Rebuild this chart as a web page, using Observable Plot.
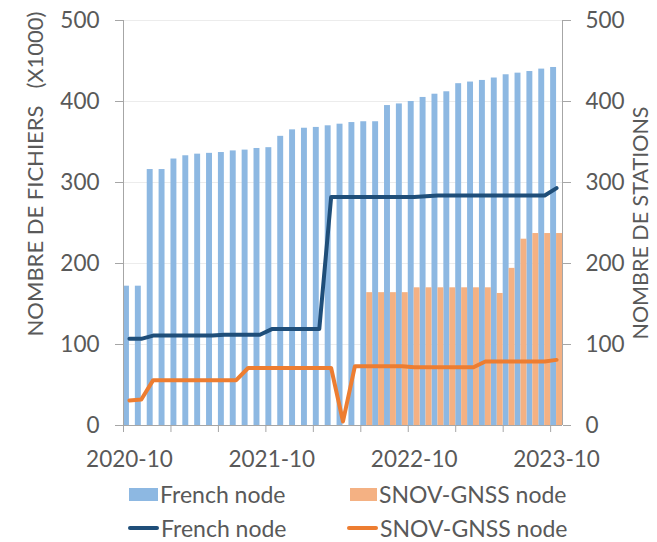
<!DOCTYPE html>
<html>
<head>
<meta charset="utf-8">
<script src="https://cdn.jsdelivr.net/npm/d3@7"></script>
<script src="https://cdn.jsdelivr.net/npm/@observablehq/plot@0.6"></script>
<style>
  html, body { margin: 0; padding: 0; background: white; }
  body { width: 657px; font-family: Lato, "Liberation Sans", sans-serif; color: #595959; }
  #legend { position: relative; width: 657px; height: 64px; font-size: 23px; }
  .item { position: absolute; display: flex; align-items: center; height: 24px; line-height: 24px; }
  .sw { display: inline-block; margin-right: 2px; }
</style>
</head>
<body>
<div id="chart"></div>
<div id="legend"></div>
<script>
// Months (categories)
const months = ["2020-10","2020-11","2020-12","2021-01","2021-02","2021-03","2021-04","2021-05","2021-06","2021-07","2021-08","2021-09",
                "2021-10","2021-11","2021-12","2022-01","2022-02","2022-03","2022-04","2022-05","2022-06","2022-07","2022-08","2022-09",
                "2022-10","2022-11","2022-12","2023-01","2023-02","2023-03","2023-04","2023-05","2023-06","2023-07","2023-08","2023-09",
                "2023-10"];
// Number of files (x1000) - bars
const filesFrench = [172,172,316,316,329,333,335,336,337,339,340,342,343,357,365,367,368,370,372,374,375,375,395,397,400,405,409,412,422,424,426,429,433,435,437,440,442];
const filesSnov   = [null,null,null,null,null,null,null,null,null,null,null,null,null,null,null,null,null,null,null,null,164,164,164,164,170,170,170,170,170,170,170,163,194,230,237,237,237];
// Number of stations - lines
const stationsFrench = [107,107,111,111,111,111,111,111,112,112,112,112,119,119,119,119,119,282,282,282,282,282,282,282,282,283,284,284,284,284,284,284,284,284,284,284,293];
const stationsSnov   = [31,32,56,56,56,56,56,56,56,56,71,71,71,71,71,71,71,71,5,73,73,73,73,73,72,72,72,72,72,72,79,79,79,79,79,79,81];
// Axis ticks
const yTicks = [0,100,200,300,400,500];
const xTickMonths = [0,4,8,12,16,20,24,28,32,36];
const xLabelMonths = ["2020-10","2021-10","2022-10","2023-10"];
const seriesNames = ["French node","SNOV-GNSS node"];
const colors = {barFr: "#8db8e2", barSn: "#f4b183", lineFr: "#1f4e79", lineSn: "#ed7d31"};

const idx = d3.range(months.length);
const snovIdx = idx.filter(i => filesSnov[i] != null);
const labelPos = xLabelMonths.map(m => months.indexOf(m) + 0.5);
const axisColor = "#a6a6a6";
const textColor = "#595959";

const chart = Plot.plot({
  width: 657,
  height: 478,
  marginLeft: 123,
  marginRight: 95,
  marginTop: 20,
  marginBottom: 53,
  style: {fontFamily: "Lato, 'Liberation Sans', sans-serif", fontSize: "22.5px", color: textColor, background: "white"},
  x: {type: "linear", domain: [0, months.length]},
  y: {domain: [0, 500]},
  marks: [
    Plot.gridY(yTicks.filter(d => d > 0), {stroke: "#ececec", strokeOpacity: 1}),
    Plot.rectY(idx, {x1: i => i, x2: i => i + 0.5, y: i => filesFrench[i], fill: colors.barFr}),
    Plot.rectY(snovIdx, {x1: i => i + 0.5, x2: i => i + 1, y: i => filesSnov[i], fill: colors.barSn}),
    Plot.ruleX([0, months.length], {stroke: axisColor}),
    Plot.ruleY([0], {stroke: axisColor}),
    Plot.line(idx, {x: i => i + 0.5, y: i => stationsFrench[i], stroke: colors.lineFr, strokeWidth: 4}),
    Plot.line(idx, {x: i => i + 0.5, y: i => stationsSnov[i], stroke: colors.lineSn, strokeWidth: 4}),
    Plot.axisY(yTicks, {anchor: "left", tickSize: 8, tickPadding: 16, stroke: axisColor, fill: textColor, label: null}),
    Plot.axisY(yTicks, {anchor: "right", tickSize: 8, tickPadding: 15, stroke: axisColor, fill: textColor, label: null}),
    Plot.axisX(xTickMonths, {anchor: "bottom", tickSize: 7, stroke: axisColor, fill: "none", label: null}),
    Plot.axisX(labelPos, {anchor: "bottom", tickSize: 0, tickPadding: 26, fill: textColor, label: null,
                          tickFormat: p => months[p - 0.5]}),
    Plot.text(["NOMBRE DE FICHIERS\u00a0\u00a0\u00a0(X1000)"], {frameAnchor: "left", textAnchor: "middle", rotate: -90,
      dx: -88, dy: -49, fontSize: 22, fill: textColor}),
    Plot.text(["NOMBRE DE STATIONS"], {frameAnchor: "right", textAnchor: "middle", rotate: -90,
      dx: 79, dy: 0, fontSize: 21.5, fill: textColor})
  ]
});
document.getElementById("chart").appendChild(chart);

// Legend
const legend = document.getElementById("legend");
const items = [
  {kind: "box", color: colors.barFr, name: seriesNames[0], left: 129, top: 4, w: 29},
  {kind: "box", color: colors.barSn, name: seriesNames[1], left: 350, top: 4, w: 27},
  {kind: "line", color: colors.lineFr, name: seriesNames[0], left: 128, top: 38, w: 31},
  {kind: "line", color: colors.lineSn, name: seriesNames[1], left: 347, top: 38, w: 31}
];
for (const it of items) {
  const d = document.createElement("div");
  d.className = "item";
  d.style.left = it.left + "px";
  d.style.top = it.top + "px";
  const s = document.createElement("span");
  s.className = "sw";
  s.style.width = it.w + "px";
  s.style.height = it.kind === "box" ? "13px" : "4px";
  s.style.background = it.color;
  if (it.kind === "line") s.style.borderRadius = "2px";
  const t = document.createElement("span");
  t.textContent = it.name;
  d.appendChild(s);
  d.appendChild(t);
  legend.appendChild(d);
}
</script>
</body>
</html>
